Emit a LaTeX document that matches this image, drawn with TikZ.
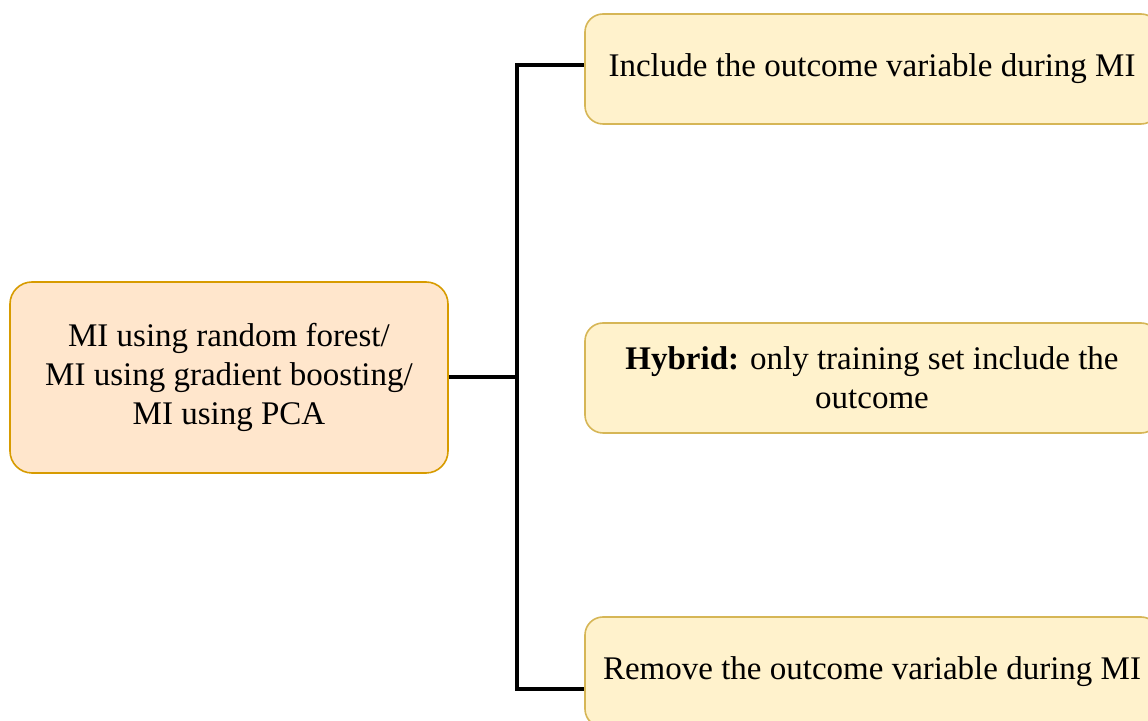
\documentclass[tikz,border=0pt]{standalone}
\usepackage{fontspec}
\setmainfont{Liberation Serif}
\definecolor{mifill}{HTML}{FFE6CC}
\definecolor{midraw}{HTML}{D79B00}
\definecolor{optfill}{HTML}{FFF2CC}
\definecolor{optdraw}{HTML}{D6B656}
\begin{document}
\begin{tikzpicture}[
   x=0.5pt, y=-0.5pt,
   mainbox/.style={rectangle, rounded corners=11pt, draw=midraw, fill=mifill, line width=0.8pt,
      minimum width=219pt, minimum height=95.5pt, align=center,
      font=\fontsize{16.5}{19.5}\selectfont},
   optbox/.style={rectangle, rounded corners=9pt, draw=optdraw, fill=optfill, line width=0.8pt,
      minimum width=287pt, minimum height=55pt, align=center,
      font=\fontsize{16.5}{19.5}\selectfont},
   link/.style={line width=2pt}
]
\clip (0,0) rectangle (1148,721);

% Imputation methods
\node[mainbox] (methods) at (229,377.5) {MI using random forest/\\MI using gradient boosting/\\MI using PCA};

% Outcome handling options
\node[optbox] (include) at (872,69) {Include the outcome variable during MI};
\node[optbox] (hybrid) at (872,378) {\textbf{Hybrid:} only training set include the\\outcome};
\node[optbox] (remove) at (872,672) {Remove the outcome variable during MI};

% Connectors
\coordinate (split) at (517,377.5);
\draw[link] (methods.east) -- (split);
\draw[link] (split) |- ([yshift=2pt]include.west);
\draw[link] (split) |- ([yshift=-8.5pt]remove.west);

\end{tikzpicture}
\end{document}
